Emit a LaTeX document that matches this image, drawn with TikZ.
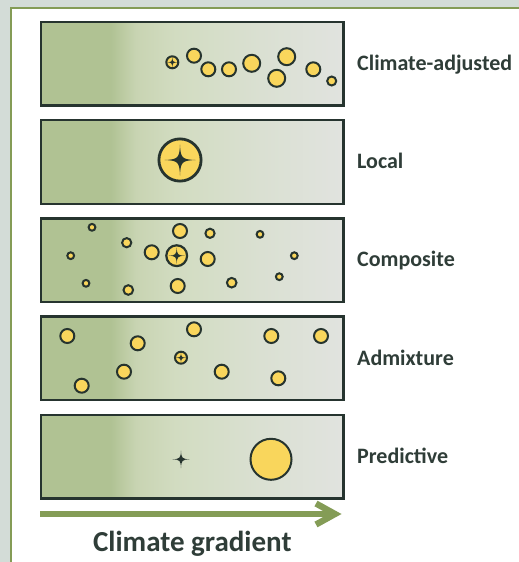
\documentclass[tikz,border=0pt]{standalone}
\usepackage{fontspec}
\newfontfamily\carl{Carlito}
\usetikzlibrary{calc}
\definecolor{bgout}{RGB}{211,220,215}
\definecolor{framegreen}{RGB}{132,156,86}
\definecolor{panelline}{RGB}{38,52,47}
\definecolor{dotfill}{RGB}{249,214,92}
\definecolor{txt}{RGB}{47,61,56}
\definecolor{gA}{RGB}{176,194,147}
\definecolor{gB}{RGB}{200,212,178}
\definecolor{gC}{RGB}{210,220,193}
\definecolor{gD}{RGB}{218,224,210}
\definecolor{gE}{RGB}{225,227,223}
\pgfdeclarehorizontalshading{panelgrad}{100bp}{color(0bp)=(gA); color(25bp)=(gA); color(36.5bp)=(gA); color(40.7bp)=(gB); color(47.3bp)=(gC); color(61.4bp)=(gD); color(75bp)=(gE); color(100bp)=(gE)}
\tikzset{
  panelbox/.style={rectangle, inner sep=0pt, minimum width=302.6pt, minimum height=83.5pt,
    shading=panelgrad, draw=panelline, line width=2.4pt, anchor=north west},
  lab/.style={inner sep=0pt, anchor=base west, text=txt, font=\carl\bfseries\fontsize{22}{26}\selectfont},
  biglab/.style={inner sep=0pt, anchor=base, text=txt, font=\carl\bfseries\fontsize{29}{34}\selectfont},
  dot/.style={fill=dotfill, draw=panelline, line width=2pt},
  arrowline/.style={draw=framegreen, line width=6.3pt},
}
\newcommand\yd[3]{\draw[dot] (#1,#2) circle[radius=#3];}
\newcommand\fourstar[3]{\fill[panelline, shift={(#1,#2)}, scale=#3] (1,0) .. controls (0.12,0.04) and (0.04,0.12) .. (0,1) .. controls (-0.04,0.12) and (-0.12,0.04) .. (-1,0) .. controls (-0.12,-0.04) and (-0.04,-0.12) .. (0,-1) .. controls (0.04,-0.12) and (0.12,-0.04) .. (1,0) -- cycle;}
\newcommand\xd[4]{\yd{#1}{#2}{#3}\fourstar{#1}{#2}{#4}}
\begin{document}
\begin{tikzpicture}[x=1pt,y=-1pt]
\fill[bgout] (0,0) rectangle (519,562);
\useasboundingbox (0,0) rectangle (519,562);
\fill[white] (11,8.3) rectangle (519,562);
\draw[framegreen, line width=2pt] (11,562) -- (11,8.3) -- (519,8.3);

% panels
\node[panelbox] (p1) at (39.7,20.8) {};
\node[panelbox] (p2) at (39.7,119) {};
\node[panelbox] (p3) at (39.7,217.2) {};
\node[panelbox] (p4) at (39.7,315.4) {};
\node[panelbox] (p5) at (39.7,413.8) {};

% labels
\node[lab] (l1) at (357,70.5) {Climate-adjusted};
\node[lab] (l2) at (357,168.7) {Local};
\node[lab] (l3) at (357,266.9) {Composite};
\node[lab] (l4) at (357,365.1) {Admixture};
\node[lab] (l5) at (357,463.3) {Predictive};

% panel 1: climate-adjusted
\xd{172.3}{62.3}{6}{5.5}
\yd{194}{55.7}{7}
\yd{208.3}{69.3}{7}
\yd{229}{69.3}{7}
\yd{251.7}{63.3}{8.5}
\yd{286.7}{56.7}{8.5}
\yd{276.7}{78.3}{8.5}
\yd{313.3}{69.3}{7}
\yd{331.7}{81}{4.5}

% panel 2: local
\draw[dot, line width=2.8pt] (180,160) circle[radius=21.1];
\fourstar{180}{160}{15.5}

% panel 3: composite
\yd{92}{227.3}{3.4}
\yd{126.7}{242.7}{4.6}
\yd{70.7}{255.7}{3.4}
\yd{86}{283.3}{3.4}
\yd{128.3}{290}{4.8}
\yd{151.7}{252.3}{7}
\yd{180}{231}{7}
\draw[dot, line width=2.2pt] (176.7,255.7) circle[radius=10.4];
\fourstar{176.7}{255.7}{8.3}
\yd{177.7}{286}{7}
\yd{210}{233.3}{4.6}
\yd{207.7}{259}{7}
\yd{231.7}{282.7}{4.8}
\yd{260}{234.3}{3.4}
\yd{294.3}{255.7}{3.4}
\yd{279.3}{276.7}{3.4}

% panel 4: admixture
\yd{67.3}{336}{7}
\yd{137.7}{343.3}{7}
\yd{194}{329.3}{7}
\yd{271.3}{336}{7}
\yd{321}{336}{7}
\xd{181}{357.7}{6}{5.5}
\yd{124}{371.7}{7}
\yd{81.7}{385.7}{7}
\yd{221.7}{371.7}{7}
\yd{278.3}{378.3}{7}

% panel 5: predictive
\fourstar{181}{459.3}{8.8}
\draw[dot] (271,459.3) circle[radius=20.5];

% climate gradient arrow
\coordinate (as) at (40,514);
\coordinate (ae) at (335,514);
\draw[arrowline] (as) -- (ae);
\draw[arrowline, line join=miter] ($(ae)+(-19,-10.5)$) -- (ae) -- ($(ae)+(-19,10.5)$);
\node[biglab] (cg) at (192.3,551.5) {Climate gradient};
\end{tikzpicture}
\end{document}
